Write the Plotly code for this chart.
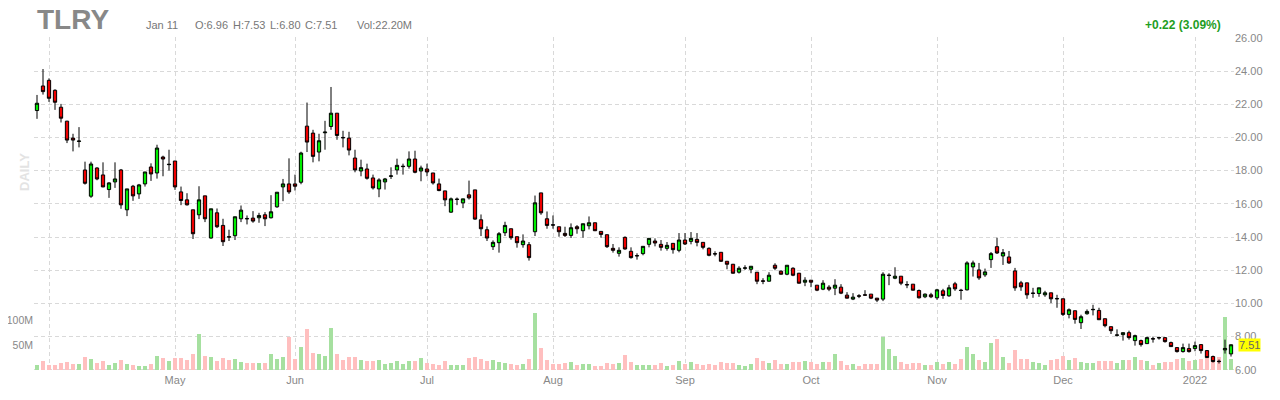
import pandas as pd
import plotly.graph_objects as go

# ---------------- data ----------------
holidays = ["2021-04-02", "2021-05-31", "2021-07-05", "2021-09-06", "2021-11-25", "2021-12-24"]
dates = [d.strftime("%Y-%m-%d") for d in pd.bdate_range("2021-03-30", "2022-01-11")
         if d.strftime("%Y-%m-%d") not in holidays]

opens = [21.62, 23.10, 23.44, 22.84, 21.82, 20.98, 19.96, 19.76, 18.04, 16.46,
         18.16, 17.74, 16.86, 17.32, 18.04, 15.64, 17.06, 16.60, 17.20, 18.22,
         17.86, 18.82, 18.36, 18.58, 16.72, 16.24, 15.64, 15.34, 16.48, 13.94,
         15.46, 14.70, 14.02, 14.08, 15.10, 15.12, 15.14, 15.16, 15.34, 15.16,
         15.82, 17.02, 17.20, 17.20, 17.30, 20.68, 20.26, 19.12, 20.28, 20.66,
         21.46, 20.00, 19.96, 18.76, 17.98, 18.10, 17.56, 16.90, 17.32, 17.66,
         18.04, 18.24, 18.26, 18.70, 17.98, 18.10, 17.86, 17.20, 16.78, 15.50,
         16.26, 16.06, 16.54, 16.84, 15.04, 14.44, 13.42, 13.66, 14.26, 14.50,
         14.02, 13.54, 13.54, 14.32, 16.66, 15.10, 14.74, 14.62, 14.22, 14.10,
         14.62, 14.38, 14.68, 14.86, 14.34, 14.14, 13.32, 13.02, 13.98, 13.14,
         12.86, 13.00, 13.56, 13.76, 13.56, 13.32, 13.62, 13.20, 13.82, 13.74,
         13.86, 13.68, 13.32, 13.00, 13.08, 12.54, 12.36, 11.88, 12.12, 12.06,
         11.88, 11.36, 11.34, 12.30, 11.94, 11.76, 12.12, 11.82, 11.28, 11.40,
         11.10, 10.86, 10.98, 10.92, 10.98, 10.50, 10.26, 10.46, 10.52, 10.56,
         10.32, 10.26, 11.68, 11.52, 11.64, 11.14, 11.16, 10.78, 10.40, 10.52,
         10.34, 10.76, 10.46, 11.18, 10.80, 10.82, 12.20, 12.02, 11.72, 12.64,
         13.42, 12.86, 12.80, 11.96, 11.24, 11.24, 10.60, 10.60, 10.52, 10.64,
         10.30, 10.28, 9.34, 9.56, 8.84, 9.38, 9.62, 9.58, 9.08, 8.60,
         8.08, 8.12, 8.24, 7.76, 7.76, 7.58, 7.88, 7.92, 7.94, 7.64,
         7.34, 7.10, 7.28, 7.28, 7.52, 7.16, 6.80, 6.52, 7.20, 6.96]

highs = [22.56, 24.12, 23.56, 22.90, 22.02, 21.00, 20.22, 20.62, 18.54, 18.54,
         18.20, 18.50, 17.30, 18.50, 18.10, 16.90, 17.14, 17.20, 17.92, 18.44,
         19.56, 18.90, 19.26, 18.58, 17.04, 16.64, 15.64, 17.06, 16.48, 15.70,
         15.72, 15.10, 14.44, 15.22, 15.90, 15.30, 15.56, 15.46, 15.50, 16.52,
         16.70, 17.50, 18.74, 17.76, 19.14, 22.10, 20.46, 20.22, 21.00, 23.04,
         21.46, 20.40, 20.34, 19.26, 18.66, 18.42, 17.76, 17.54, 17.56, 18.20,
         18.72, 18.42, 19.16, 19.20, 18.30, 18.42, 17.86, 17.52, 16.78, 16.38,
         16.38, 16.30, 17.40, 16.84, 15.36, 14.64, 13.80, 14.30, 14.92, 14.50,
         14.02, 14.16, 13.70, 16.50, 16.66, 15.54, 15.30, 14.62, 14.62, 14.82,
         14.72, 14.80, 15.24, 14.86, 14.34, 14.14, 13.58, 13.38, 14.04, 13.38,
         13.02, 13.44, 13.92, 13.92, 13.82, 13.70, 13.62, 14.24, 14.24, 14.30,
         14.24, 13.68, 13.38, 13.14, 13.08, 12.54, 12.38, 12.24, 12.30, 12.24,
         11.88, 11.52, 11.88, 12.42, 12.00, 12.30, 12.18, 11.84, 11.58, 11.40,
         11.10, 11.40, 11.10, 11.46, 11.16, 10.68, 10.62, 10.56, 10.80, 10.56,
         10.32, 11.88, 11.82, 12.18, 11.64, 11.34, 11.16, 10.84, 10.60, 10.64,
         10.88, 10.88, 11.12, 11.30, 10.88, 12.54, 12.58, 12.44, 12.10, 13.10,
         13.96, 13.28, 13.16, 12.14, 11.36, 11.24, 10.94, 10.94, 10.76, 10.64,
         10.52, 10.28, 9.70, 9.56, 9.32, 9.64, 9.92, 9.74, 9.08, 8.60,
         8.44, 8.24, 8.36, 8.12, 7.82, 8.00, 8.00, 8.00, 7.96, 7.70,
         7.34, 7.58, 7.58, 7.70, 7.52, 7.18, 6.86, 6.62, 7.82, 7.53]

lows = [21.12, 22.58, 22.14, 21.66, 20.90, 19.66, 19.16, 19.40, 17.16, 16.36,
        17.42, 17.00, 16.36, 16.96, 15.70, 15.26, 16.18, 16.30, 17.04, 17.38,
        17.52, 17.66, 18.00, 16.84, 15.92, 15.90, 13.88, 15.08, 14.90, 13.90,
        14.54, 13.46, 13.76, 13.82, 14.90, 14.76, 14.86, 14.86, 14.66, 15.12,
        15.76, 16.16, 16.60, 16.80, 17.18, 19.12, 18.50, 18.56, 19.26, 20.46,
        19.86, 19.40, 18.92, 17.90, 17.66, 17.46, 16.86, 16.40, 16.86, 17.50,
        17.76, 17.76, 18.12, 17.84, 17.36, 17.66, 17.16, 16.76, 15.86, 15.46,
        15.92, 15.74, 16.26, 15.04, 14.06, 13.76, 13.22, 13.06, 14.06, 13.84,
        13.36, 13.36, 12.58, 14.06, 15.34, 14.50, 14.50, 14.02, 14.00, 13.94,
        14.20, 13.96, 14.46, 14.36, 13.96, 13.34, 13.06, 12.82, 13.24, 12.70,
        12.64, 12.90, 13.38, 13.44, 13.18, 13.18, 13.00, 13.08, 13.52, 13.56,
        13.44, 13.26, 12.84, 12.84, 12.50, 12.06, 11.80, 11.80, 12.02, 11.82,
        11.16, 11.16, 11.32, 12.00, 11.74, 11.70, 11.64, 11.20, 11.04, 10.98,
        10.74, 10.80, 10.74, 10.50, 10.56, 10.30, 10.20, 10.32, 10.48, 10.26,
        10.08, 10.14, 11.10, 11.46, 11.10, 10.92, 10.78, 10.30, 10.32, 10.32,
        10.22, 10.28, 10.40, 10.76, 10.22, 10.78, 11.62, 11.42, 11.60, 12.14,
        12.98, 12.32, 12.38, 10.76, 10.76, 10.28, 10.34, 10.40, 10.40, 10.02,
        9.74, 9.24, 9.10, 8.78, 8.46, 9.32, 9.28, 9.00, 8.56, 8.16,
        8.00, 7.76, 7.82, 7.46, 7.40, 7.56, 7.64, 7.82, 7.64, 7.38,
        7.04, 7.04, 7.04, 7.12, 6.98, 6.72, 6.44, 6.38, 6.98, 6.80]

closes = [22.06, 22.76, 22.36, 22.12, 21.16, 19.84, 19.84, 19.78, 17.24, 18.40,
          17.50, 17.02, 17.26, 17.50, 15.94, 16.90, 16.48, 17.14, 17.92, 17.80,
          19.36, 18.70, 18.38, 17.02, 16.20, 15.94, 14.20, 16.24, 15.10, 15.70,
          14.62, 13.72, 14.00, 15.22, 15.62, 15.10, 14.96, 15.30, 15.10, 15.52,
          16.70, 17.20, 16.72, 17.06, 19.06, 19.72, 18.86, 19.80, 20.32, 21.46,
          20.12, 19.98, 19.24, 18.04, 18.18, 17.54, 16.96, 17.44, 17.50, 17.68,
          18.32, 18.26, 18.70, 17.90, 18.16, 17.92, 17.26, 16.80, 16.24, 16.30,
          16.28, 16.30, 16.36, 15.08, 14.50, 13.94, 13.68, 14.20, 14.70, 13.96,
          13.66, 13.76, 12.76, 16.06, 15.46, 14.70, 14.72, 14.32, 14.10, 14.56,
          14.50, 14.80, 14.86, 14.38, 14.16, 13.42, 13.20, 13.20, 13.28, 12.76,
          12.88, 13.44, 13.92, 13.64, 13.38, 13.50, 13.24, 13.82, 13.58, 13.92,
          13.68, 13.38, 12.90, 12.98, 12.54, 12.36, 11.82, 12.12, 12.14, 12.24,
          11.34, 11.34, 11.70, 12.12, 11.76, 12.30, 11.70, 11.22, 11.40, 11.28,
          10.80, 11.22, 10.86, 11.10, 10.62, 10.32, 10.38, 10.44, 10.50, 10.32,
          10.20, 11.76, 11.70, 11.64, 11.22, 11.12, 10.80, 10.34, 10.56, 10.40,
          10.82, 10.48, 10.94, 10.88, 10.78, 12.44, 12.44, 11.54, 11.90, 13.00,
          13.04, 13.06, 12.44, 10.94, 11.00, 10.52, 10.62, 10.94, 10.64, 10.28,
          10.28, 9.34, 9.62, 9.04, 9.20, 9.52, 9.64, 9.02, 8.66, 8.36,
          8.10, 8.24, 7.94, 8.06, 7.52, 7.94, 7.86, 7.94, 7.70, 7.40,
          7.10, 7.34, 7.10, 7.46, 7.16, 6.74, 6.50, 6.50, 7.29, 7.51]

volumes_m = [10.7, 18.7, 10.7, 10.7, 14.7, 16.7, 12.7, 12.7, 26.7, 22.7,
             14.7, 18.7, 10.7, 14.7, 20.7, 12.7, 10.7, 8.7, 8.7, 12.7,
             28.7, 24.7, 18.7, 24.7, 24.7, 20.7, 32.7, 72.7, 28.7, 26.7,
             18.7, 24.7, 20.7, 22.7, 16.7, 14.7, 14.7, 14.7, 14.7, 32.7,
             22.7, 26.7, 65.3, 22.7, 46.7, 82.7, 34.7, 32.7, 28.7, 84.7,
             32.7, 20.7, 26.7, 26.7, 20.7, 18.7, 18.7, 20.7, 12.7, 14.7,
             18.7, 12.7, 18.7, 18.7, 24.7, 14.7, 12.7, 10.7, 18.7, 10.7,
             10.7, 10.7, 24.7, 26.7, 22.7, 18.7, 20.7, 16.7, 14.7, 12.7,
             10.7, 12.7, 22.7, 114.7, 44.7, 20.7, 12.7, 12.7, 14.7, 16.7,
             10.7, 12.7, 12.7, 8.7, 8.7, 14.7, 12.7, 14.7, 30.7, 16.7,
             10.7, 10.7, 10.7, 10.7, 14.7, 8.7, 10.7, 18.7, 12.7, 16.7,
             12.7, 10.7, 12.7, 10.7, 16.7, 14.7, 14.7, 10.7, 8.7, 12.7,
             24.7, 18.7, 14.7, 20.7, 12.7, 12.7, 16.7, 16.7, 18.7, 16.7,
             12.7, 16.7, 16.7, 32.7, 18.7, 10.7, 12.7, 8.7, 12.7, 12.7,
             12.7, 66.7, 42.7, 28.7, 16.7, 12.7, 14.7, 14.7, 10.7, 10.7,
             16.7, 12.7, 16.7, 12.7, 22.7, 46.7, 32.7, 20.7, 16.7, 54.7,
             61.3, 26.7, 14.7, 40.7, 22.7, 22.7, 16.7, 14.7, 10.7, 20.7,
             22.7, 28.7, 20.7, 24.7, 16.7, 14.7, 14.7, 18.7, 18.7, 18.7,
             14.7, 20.7, 20.7, 26.7, 20.7, 18.7, 10.7, 14.7, 16.7, 16.7,
             22.7, 24.7, 18.7, 20.7, 22.7, 24.7, 24.7, 26.7, 106.7, 22.2]

month_ticks = ["2021-04-01", "2021-05-03", "2021-06-01", "2021-07-01", "2021-08-02",
               "2021-09-01", "2021-10-01", "2021-11-01", "2021-12-01", "2022-01-03"]
month_labels = ["", "May", "Jun", "Jul", "Aug", "Sep", "Oct", "Nov", "Dec", "2022"]
price_ticks = [6, 8, 10, 12, 14, 16, 18, 20, 22, 24, 26]
vol_ticks_m = [50, 100]
vol_labels = ["50M", "100M"]

symbol = "TLRY"
last_date_label = "Jan 11"
change_text = "+0.22 (3.09%)"

# ---------------- layout geometry ----------------
# the page body has an 8px default margin, so the figure is offset by 8px
OFF = 8
W, H = 1272, 392
PLOT_L, PLOT_T, PLOT_W, PLOT_H = 34, 37, 1200, 335   # in page pixels
ML, MT = PLOT_L - OFF, PLOT_T - OFF
MR = W - ML - PLOT_W
MB = H - MT - PLOT_H


def px_x(px):
    return (px - PLOT_L) / PLOT_W


def px_y(py):
    return (PLOT_T + PLOT_H - py) / PLOT_H


FONT = "Liberation Sans, Arial, sans-serif"
GRID = "#d9d9d9"
DASH = "4px,3px"
GREEN = "#00ee00"
RED = "#ee0000"
VGREEN = "#a6e0a0"
VRED = "#ffbfbf"

vol_colors = [VGREEN if c >= o else VRED for o, c in zip(opens, closes)]

fig = go.Figure()

fig.add_trace(go.Bar(
    x=dates, y=[v * 1e6 for v in volumes_m], marker=dict(color=vol_colors, line=dict(width=0)),
    width=0.78, xaxis="x", yaxis="y", hoverinfo="skip", showlegend=False,
))

fig.add_trace(go.Candlestick(
    x=dates, open=opens, high=highs, low=lows, close=closes,
    xaxis="x", yaxis="y2", whiskerwidth=0,
    increasing=dict(fillcolor=GREEN, line=dict(color="black", width=1)),
    decreasing=dict(fillcolor=RED, line=dict(color="black", width=1)),
    showlegend=False,
))

fig.update_layout(
    width=W, height=H,
    margin=dict(l=ML, r=MR, t=MT, b=MB, autoexpand=False),
    paper_bgcolor="white", plot_bgcolor="white",
    font=dict(family=FONT, size=11, color="#888888"),
    boxgap=0.22,
    bargap=0,
    xaxis=dict(
        type="category", range=[-0.5, len(dates) - 0.5], automargin=False,
        tickmode="array", tickvals=month_ticks, ticktext=month_labels,
        showgrid=True, gridcolor=GRID, griddash=DASH, gridwidth=1,
        showline=False, zeroline=False, ticks="", tickfont=dict(size=11, color="#888888"),
        rangeslider=dict(visible=False),
    ),
    yaxis=dict(
        range=[-4e6, 666e6], side="left", automargin=False,
        tickmode="array", tickvals=[v * 1e6 for v in vol_ticks_m], ticktext=vol_labels,
        showgrid=False, zeroline=False, showline=False, ticks="",
        tickfont=dict(size=10.5, color="#888888"),
    ),
    yaxis2=dict(
        overlaying="y", side="right", range=[5.87, 26.05], automargin=False,
        tickmode="array", tickvals=price_ticks, tickformat=".2f",
        showgrid=True, gridcolor=GRID, griddash=DASH, gridwidth=1,
        zeroline=False, showline=False, ticks="",
        tickfont=dict(size=11, color="#888888"),
    ),
    hovermode=False,
)

ann = []
ann.append(dict(text=f"<b>{symbol}</b>", x=px_x(35), y=px_y(19.5), xref="paper", yref="paper",
                xanchor="left", yanchor="middle", showarrow=False,
                font=dict(size=28, color="#888888", family=FONT)))
info_color = "#777777"
ann.append(dict(text=last_date_label, x=px_x(144), y=px_y(25), xref="paper", yref="paper",
                xanchor="left", yanchor="middle", showarrow=False,
                font=dict(size=11, color=info_color)))
ohlc_items = [(193, f"O:{opens[-1]:.2f}"), (231, f"H:{highs[-1]:.2f}"),
              (268, f"L:{lows[-1]:.2f}"), (303, f"C:{closes[-1]:.2f}"),
              (355, f"Vol:{volumes_m[-1]:.2f}M")]
for xp, t in ohlc_items:
    ann.append(dict(text=t, x=px_x(xp), y=px_y(25), xref="paper", yref="paper",
                    xanchor="left", yanchor="middle", showarrow=False,
                    font=dict(size=11, color=info_color)))
ann.append(dict(text=f"<b>{change_text}</b>", x=px_x(1223), y=px_y(25), xref="paper", yref="paper",
                xanchor="right", yanchor="middle", showarrow=False,
                font=dict(size=12, color="#1f9e1f")))
ann.append(dict(text="<b>DAILY</b>", x=px_x(24), y=px_y(172), xref="paper", yref="paper",
                xanchor="center", yanchor="middle", textangle=-90, showarrow=False,
                font=dict(size=13, color="#e3e3e3")))
ann.append(dict(text=f"{closes[-1]:.2f}", x=px_x(1238), y=closes[-1], xref="paper", yref="y2",
                xanchor="left", yanchor="middle", showarrow=False, bgcolor="#ffff00",
                borderpad=0, font=dict(size=11, color="#666666")))
fig.update_layout(annotations=ann)

fig.write_html("out.html")
